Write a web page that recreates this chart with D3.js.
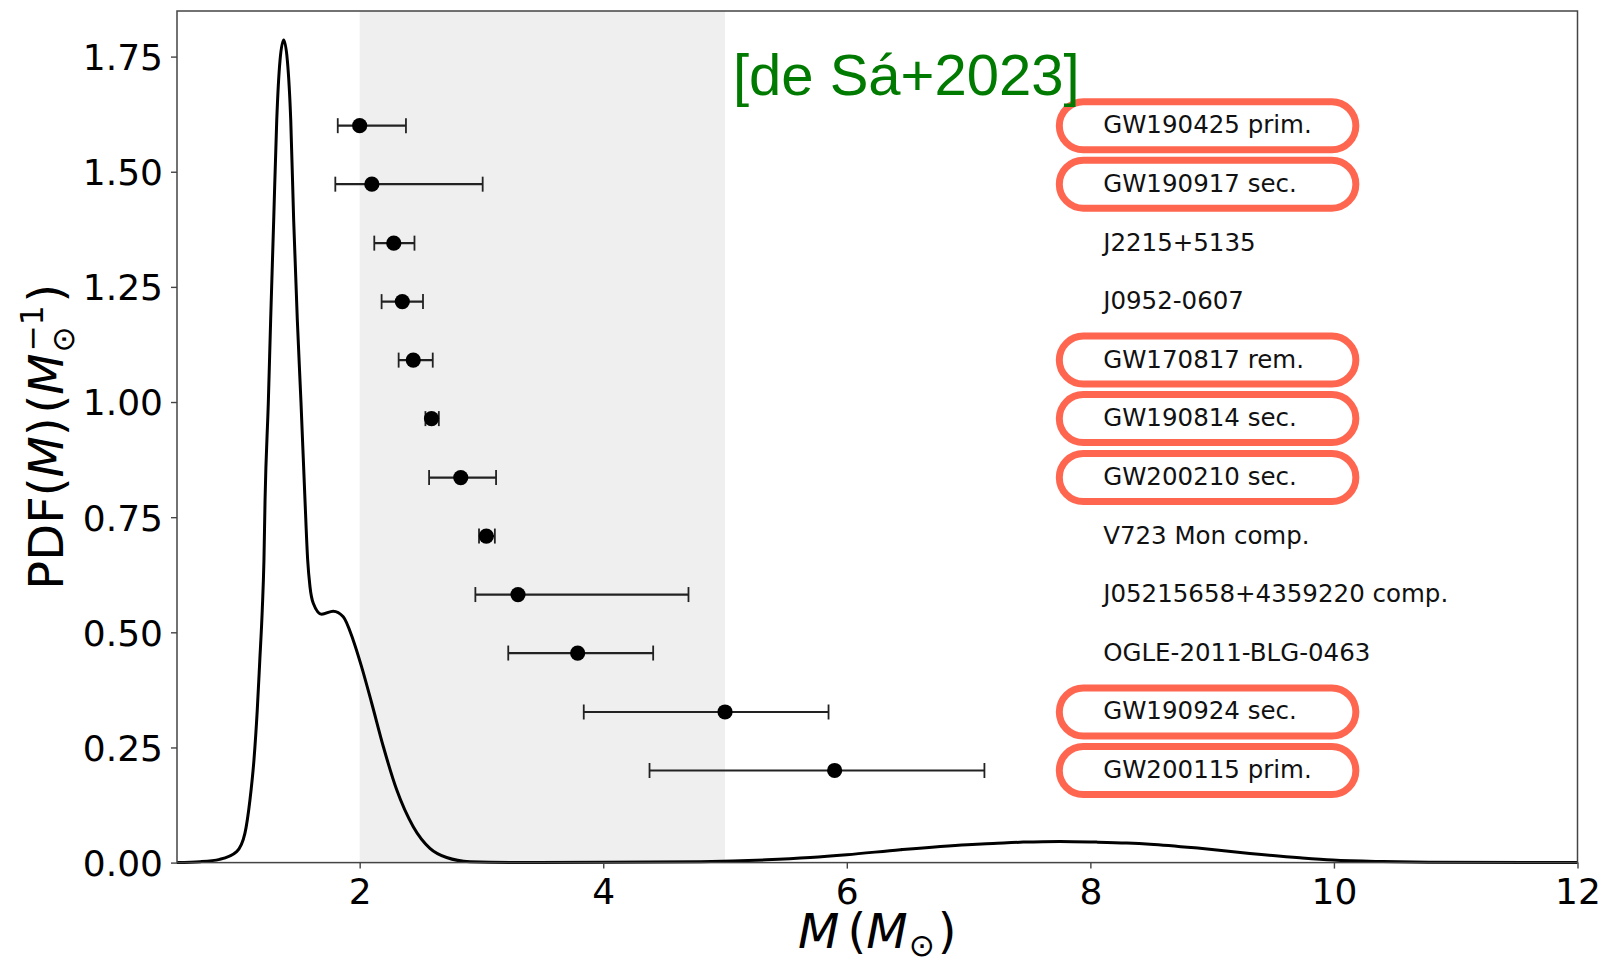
<!DOCTYPE html>
<html>
<head>
<meta charset="utf-8">
<script src="https://cdn.jsdelivr.net/npm/d3@7"></script>
<style>
  html, body { margin: 0; padding: 0; background: #fff; }
  svg { display: block; }
</style>
</head>
<body>
<svg id="chart" width="1605" height="964"></svg>
<script>
// Compact-object masses with 68% intervals, top to bottom
const objectNames = [
  "GW190425 prim.", "GW190917 sec.", "J2215+5135", "J0952-0607",
  "GW170817 rem.", "GW190814 sec.", "GW200210 sec.", "V723 Mon comp.",
  "J05215658+4359220 comp.", "OGLE-2011-BLG-0463", "GW190924 sec.", "GW200115 prim."
];
const massCentral = [2.00, 2.10, 2.28, 2.35, 2.44, 2.59, 2.83, 3.04, 3.30, 3.79, 5.00, 5.90];
const massLow     = [1.82, 1.80, 2.12, 2.18, 2.32, 2.54, 2.57, 2.98, 2.95, 3.22, 3.84, 4.38];
const massHigh    = [2.38, 3.01, 2.45, 2.52, 2.60, 2.65, 3.12, 3.11, 4.70, 4.41, 5.85, 7.13];
const rowLevel    = [1.600, 1.473, 1.345, 1.218, 1.091, 0.964, 0.836, 0.709, 0.582, 0.455, 0.327, 0.200];
const gwEvent     = [true, true, false, false, true, true, true, false, false, false, true, true];

// Mass distribution PDF(M), sampled
const pdfMass = [0.50, 0.69, 0.85, 0.99, 1.058, 1.099, 1.132, 1.159, 1.18, 1.20, 1.214, 1.223, 1.25, 1.269,
  1.294, 1.319, 1.346, 1.376, 1.406, 1.434, 1.458, 1.488, 1.518, 1.551, 1.573, 1.592, 1.619, 1.688,
  1.783, 1.865, 1.947, 2.016, 2.099, 2.194, 2.304, 2.44, 2.577, 2.714, 2.906, 3.3, 4.0, 4.8, 5.34,
  5.7, 6.0, 6.44, 6.99, 7.2, 7.45, 7.75, 8.05, 8.3, 8.49, 8.90, 9.31, 9.72, 9.99, 10.4, 10.8, 12.0];
const pdfValue = [0.0003, 0.002, 0.007, 0.024, 0.064, 0.136, 0.223, 0.331, 0.44, 0.548, 0.657, 0.787, 1.0, 1.178,
  1.395, 1.612, 1.742, 1.786, 1.742, 1.612, 1.395, 1.178, 1.0, 0.787, 0.657, 0.599, 0.563, 0.539,
  0.546, 0.534, 0.483, 0.425, 0.346, 0.252, 0.158, 0.078, 0.031, 0.011, 0.002, 0.0003, 0.0005, 0.002, 0.006,
  0.011, 0.017, 0.028, 0.039, 0.0415, 0.0445, 0.046, 0.0445, 0.0425, 0.040, 0.031, 0.020, 0.0105, 0.0055, 0.0022, 0.0008, 0.0];

const xTicks = [2, 4, 6, 8, 10, 12];
const yTicks = [0, 0.25, 0.5, 0.75, 1.0, 1.25, 1.5, 1.75];
const massGap = [2, 5];
const citation = "[de Sá+2023]";

const W = 1605, H = 964;
const margin = { left: 177, right: 27.5, top: 11, bottom: 101.4 };
const iw = W - margin.left - margin.right;
const ih = H - margin.top - margin.bottom;

const svg = d3.select("#chart");
const g = svg.append("g").attr("transform", `translate(${margin.left},${margin.top})`);

const x = d3.scaleLinear().domain([0.5, 12]).range([0, iw]);
const y = d3.scaleLinear().domain([0, 1.849]).range([ih, 0]);

// Shaded mass-gap band
g.append("rect")
  .attr("x", x(massGap[0])).attr("y", 0)
  .attr("width", x(massGap[1]) - x(massGap[0])).attr("height", ih)
  .attr("fill", "#efefef");

// PDF curve
const line = d3.line().x(d => x(d[0])).y(d => y(d[1])).curve(d3.curveMonotoneX);
g.append("path")
  .datum(pdfMass.map((m, i) => [m, pdfValue[i]]))
  .attr("d", line)
  .attr("fill", "none").attr("stroke", "#000").attr("stroke-width", 3)
  .attr("stroke-linejoin", "round");

// Axes
const axisColor = "#444";
const fontMain = "'DejaVu Sans', sans-serif";
const xAxis = g.append("g").attr("transform", `translate(0,${ih})`)
  .call(d3.axisBottom(x).tickValues(xTicks).tickFormat(d3.format("d")).tickSize(6).tickPadding(9));
const yAxis = g.append("g")
  .call(d3.axisLeft(y).tickValues(yTicks).tickFormat(d3.format(".2f")).tickSize(6).tickPadding(8));
[xAxis, yAxis].forEach(a => {
  a.select(".domain").remove();
  a.selectAll(".tick line").attr("stroke", axisColor).attr("stroke-width", 1.4);
  a.selectAll(".tick text").attr("fill", "#000").style("font-family", fontMain).style("font-size", "36px");
});
yAxis.selectAll(".tick text").attr("dy", "0.36em");
xAxis.selectAll(".tick text").attr("dy", "0.72em");

// Frame
g.append("rect").attr("x", 0).attr("y", 0).attr("width", iw).attr("height", ih)
  .attr("fill", "none").attr("stroke", axisColor).attr("stroke-width", 1.5);

// Highlight boxes around GW events
const boxL = x(7.745), boxR = x(10.18), boxH = 48;
g.selectAll("rect.gwbox")
  .data(rowLevel.map((v, i) => ({ v, hl: gwEvent[i] })).filter(d => d.hl))
  .join("rect").attr("class", "gwbox")
  .attr("x", boxL).attr("y", d => y(d.v) - boxH / 2)
  .attr("width", boxR - boxL).attr("height", boxH)
  .attr("rx", boxH / 2).attr("ry", boxH / 2)
  .attr("fill", "none").attr("stroke", "#ff6650").attr("stroke-width", 7);

// Object names
g.selectAll("text.objname")
  .data(objectNames)
  .join("text").attr("class", "objname")
  .attr("x", x(8.105)).attr("y", (d, i) => y(rowLevel[i]) + 7.5)
  .attr("fill", "#111")
  .style("font-family", fontMain).style("font-size", "24.5px")
  .text(d => d);

// Error bars
const bars = g.selectAll("g.ebar")
  .data(massCentral.map((m, i) => ({ m, lo: massLow[i], hi: massHigh[i], v: rowLevel[i] })))
  .join("g").attr("class", "ebar");
bars.append("line")
  .attr("x1", d => x(d.lo)).attr("x2", d => x(d.hi))
  .attr("y1", d => y(d.v)).attr("y2", d => y(d.v))
  .attr("stroke", "#222").attr("stroke-width", 2.2);
["lo", "hi"].forEach(k => {
  bars.append("line")
    .attr("x1", d => x(d[k])).attr("x2", d => x(d[k]))
    .attr("y1", d => y(d.v) - 7.5).attr("y2", d => y(d.v) + 7.5)
    .attr("stroke", "#222").attr("stroke-width", 1.8);
});
bars.append("circle")
  .attr("cx", d => x(d.m)).attr("cy", d => y(d.v)).attr("r", 7.6)
  .attr("fill", "#000");

// Citation
g.append("text")
  .attr("x", x(5.065)).attr("y", 95 - margin.top)
  .attr("fill", "#007a00")
  .style("font-family", "'Liberation Sans', Arial, sans-serif").style("font-size", "58px")
  .text(citation);

// Math-style axis labels built from pieces
function mathLabel(parent, pieces, size) {
  const grp = parent.append("g");
  let cx = 0;
  let lastBase = 0;
  pieces.forEach(p => {
    const fs = p.script ? size * 0.65 : size;
    const t = grp.append("text")
      .attr("x", cx + (p.dx || 0) * size)
      .attr("y", (p.dy || 0) * size)
      .style("font-family", fontMain)
      .style("font-size", fs + "px")
      .style("font-style", p.italic ? "italic" : "normal")
      .attr("fill", "#000")
      .text(p.t);
    const w = t.node().getComputedTextLength();
    if (p.back) {
      t.attr("x", lastBase + (p.dx || 0) * size);
      cx = Math.max(cx, lastBase + w + (p.dx || 0) * size);
    } else {
      lastBase = cx + (p.dx || 0) * size;
      cx = lastBase + w;
    }
  });
  grp.selectAll("text").each(function () {
    const el = d3.select(this);
    el.attr("x", +el.attr("x") - cx / 2);
  });
  return grp;
}

// x label: M (M_sun)
const xl = mathLabel(svg, [
  { t: "M", italic: true },
  { t: "(", dx: 0.17 },
  { t: "M", italic: true },
  { t: "⊙", script: true, dy: 0.17, dx: 0.02 },
  { t: ")", dx: 0.06 }
], 48);
xl.attr("transform", `translate(${margin.left + iw / 2},948)`);

// y label: PDF(M) (M_sun^-1)
const yl = mathLabel(svg, [
  { t: "PDF(" },
  { t: "M", italic: true },
  { t: ")" },
  { t: "(", dx: 0.08 },
  { t: "M", italic: true },
  { t: "⊙", script: true, dy: 0.22, dx: 0.02 },
  { t: "−1", script: true, dy: -0.42, dx: 0.02, back: true },
  { t: ")", dx: 0.06 }
], 48);
yl.attr("transform", `translate(63,${margin.top + ih / 2}) rotate(-90)`);
</script>
</body>
</html>
